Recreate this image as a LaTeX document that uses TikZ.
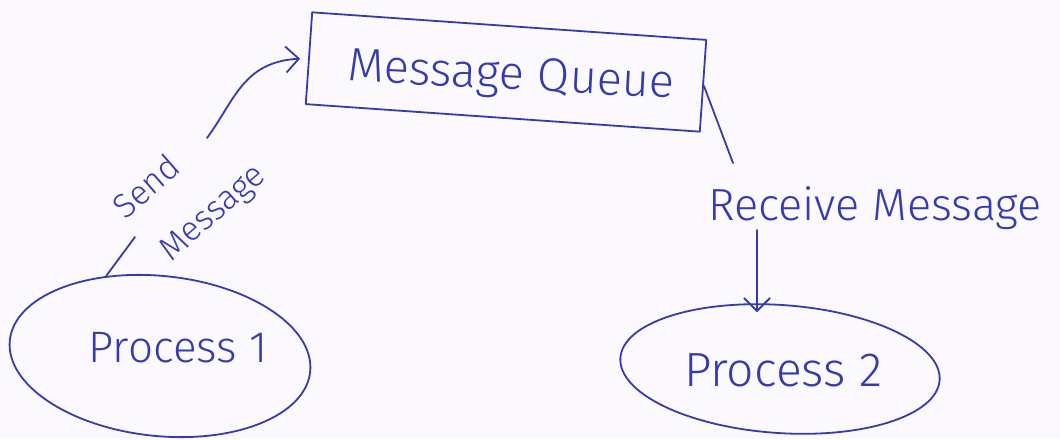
\documentclass[tikz,border=0pt]{standalone}
\usepackage{fontspec}
\setmainfont{Fira Sans Light}
\usetikzlibrary{shapes.geometric,arrows.meta}
\definecolor{ink}{RGB}{52,60,172}
\definecolor{paper}{RGB}{252,249,254}
\begin{document}
\begin{tikzpicture}[x=1pt,y=-1pt,
  pen/.style={draw=ink,line width=1.8pt,line cap=round,line join=round},
  hand/.style={text=ink,inner sep=0pt,font=\fontsize{#1}{#1}\selectfont},
  barb/.style={-{Straight Barb[length=13pt,width=26pt]}}]
\fill[paper] (0,0) rectangle (1060,439);
\useasboundingbox (0,0) rectangle (1060,439);

% queue box and the three process / queue labels
\node[pen,rotate=-4,minimum width=395pt,minimum height=92pt,inner sep=0pt] (mq) at (506,72) {};
\node[hand=47,rotate=-3] (mqt) at (511,78) {Message Queue};
\node[pen,ellipse,rotate=-6,minimum width=302pt,minimum height=160pt,inner sep=0pt] (p1) at (160,356) {};
\node[hand=44] (p1t) at (178,348) {Process 1};
\node[pen,ellipse,rotate=-4,minimum width=320pt,minimum height=128pt,inner sep=0pt] (p2) at (780,369) {};
\node[hand=48] (p2t) at (783,370) {Process 2};

% connector labels
\node[hand=34,rotate=41] (sendt) at (146,186) {Send};
\node[hand=34,rotate=41] (msgt) at (214,214) {Message};
\node[hand=45] (rcvt) at (875,208) {Receive Message};

% send: process 1 -> queue, broken around its label
\coordinate (s1) at (135,237);
\coordinate (s2) at (207,138);
\draw[pen] (p1.130) -- (s1);
\draw[pen,barb,shorten >=8pt] (s2) .. controls (235,100) and (243,62) .. (mq.west);

% receive: queue -> process 2, broken around its label
\coordinate (r0) at (733,163);
\draw[pen] (mq.east) -- (r0);
\coordinate (r1) at (757,230);
\draw[pen,barb,shorten >=-8pt] (r1) -- (r1 |- p2.north);
\end{tikzpicture}
\end{document}
